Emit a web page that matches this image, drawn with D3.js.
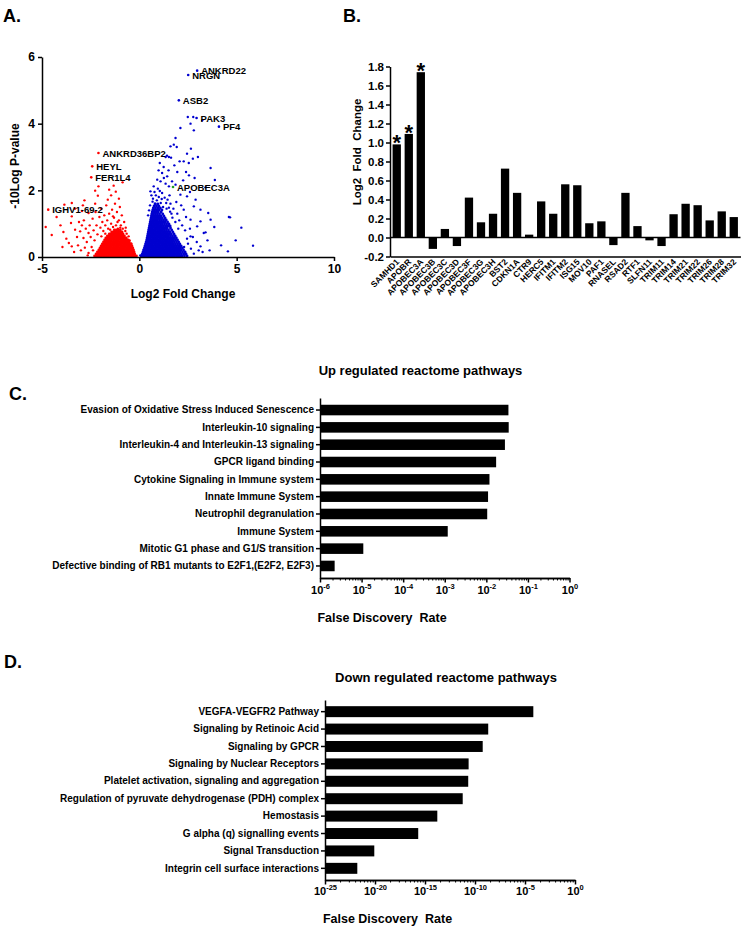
<!DOCTYPE html>
<html>
<head>
<meta charset="utf-8">
<script src="https://cdn.jsdelivr.net/npm/d3@7/dist/d3.min.js"></script>
<style>
html,body{margin:0;padding:0;background:#fff;}
svg{display:block;}
</style>
</head>
<body>
<svg id="fig" width="744" height="928"></svg>
<script>
// ================= DATA =================
// ---- Panel A: volcano plot ----
const aXTicks = [-5, 0, 5, 10];
const aYTicks = [0, 2, 4, 6];
const geneNames   = ["ANKRD22","NRGN","ASB2","PAK3","PF4","APOBEC3A","ANKRD36BP2","HEYL","FER1L4","IGHV1-69-2"];
const geneLog2FC  = [2.97, 2.51, 2.03, 2.94, 4.09, 1.73, -2.10, -2.42, -2.47, -4.68];
const geneNegLogP = [5.59, 5.46, 4.70, 4.17, 3.91, 2.10, 3.12, 2.72, 2.39, 1.42];
const geneGroup   = ["up","up","up","up","up","highlight","down","down","down","down"];

// scattered down-regulated genes [log2FC, -10logP]
const downPoints = [
[-0.86,2.24],[-1.32,2.14],[-2.27,1.99],[-2.13,1.84],[-1.55,2.02],[-1.21,1.96],[-2.10,2.12],
[-4.81,0.90],[-4.50,0.66],[-3.85,1.57],[-3.47,1.62],[-3.30,1.45],[-2.82,1.70],[-2.27,1.60],[-2.61,1.32],[-2.95,1.38],
[-3.47,1.22],[-3.51,1.02],[-3.30,0.82],[-3.04,0.77],[-2.87,0.57],[-2.61,0.72],[-3.47,0.32],[-2.61,0.12],
[-4.05,0.95],[-3.90,0.75],[-3.75,0.55],[-3.62,0.42],[-3.20,0.60],[-3.15,0.35],[-2.95,0.95],[-2.85,1.10],[-2.75,0.85],
[-2.70,0.45],[-2.55,0.95],[-2.50,0.60],[-2.45,0.30],[-2.40,1.15],[-2.35,0.80],[-2.30,0.50],[-2.25,1.35],[-2.20,0.95],
[-2.15,0.68],[-2.05,1.20],[-2.00,0.88],[-1.95,1.45],[-1.90,1.05],[-1.85,0.78],[-1.80,1.25],[-1.75,0.95],[-1.70,1.55],
[-1.65,1.10],[-1.60,0.85],[-1.55,1.30],[-1.45,1.00],[-1.40,1.42],[-1.35,0.90],[-1.30,1.18],[-1.25,1.60],[-1.20,0.95],
[-1.15,1.35],[-1.10,0.85],[-1.05,1.10],[-1.00,1.50],[-0.95,0.95],[-0.90,1.25],[-0.85,0.85],[-0.78,1.05],[-0.70,0.88],
[-0.65,0.70],[-0.55,0.62],[-0.50,0.50],[-0.42,0.40],[-3.00,0.20],[-2.80,0.28],[-3.35,0.15],[-2.90,1.55],[-3.10,1.05],
[-1.62,1.72],[-1.05,1.75],[-1.45,1.85],[-3.95,0.30],[-4.25,1.20],[-2.65,0.05],[-1.95,0.62],[-1.75,0.70],[-2.38,0.20],
[-1.35,1.22],[-1.12,1.05],[-0.98,0.88],[-1.50,0.82],[-0.72,0.78]
];
// scattered up-regulated genes
const upPoints = [
[2.49,4.20],[2.77,4.20],[3.23,4.10],[2.63,4.00],[2.11,3.87],[2.80,3.80],
[1.86,3.57],[1.77,3.37],[1.92,3.30],[1.60,3.32],[1.42,3.04],[1.35,3.00],[1.52,3.00],[1.63,2.98],[2.45,3.10],
[2.28,2.87],[2.54,2.82],[2.07,2.87],[1.05,2.82],[0.99,2.60],[1.17,2.52],[1.26,2.37],[1.09,2.27],[0.92,2.32],
[1.43,2.42],[1.68,2.27],[0.74,2.12],[1.52,2.12],[1.86,2.17],[0.57,1.97],[1.17,1.92],[2.11,1.87],[2.45,1.82],
[2.89,1.72],[2.80,1.52],[3.14,1.42],[2.28,1.42],[2.63,1.12],[2.97,0.92],[3.31,0.72],[2.63,0.62],[3.14,0.32],[3.66,1.12],
[3.01,3.00],[3.66,2.67],[2.84,2.37],[3.88,2.31],[3.40,2.09],[3.54,1.32],[3.14,1.07],[4.60,1.20],[4.66,1.19],
[5.24,0.88],[3.40,0.74],[4.95,0.50],[5.84,0.34],[4.55,0.17],[3.61,0.20],
[0.70,1.75],[0.85,1.85],[1.00,1.80],[1.30,1.78],[1.45,1.72],[1.60,1.60],[1.75,1.45],[1.95,1.30],[2.05,1.10],
[2.20,0.95],[2.35,0.80],[2.50,0.40],[2.65,0.25],[2.80,0.10],[2.95,0.45],[3.05,0.20],[2.40,1.20],[2.15,1.55],
[1.90,1.65],[0.95,2.05],[1.35,2.20],[0.80,1.60],[1.55,1.85],[2.60,1.95],[2.25,2.30],[1.95,2.55],[2.40,2.55],
[2.55,2.45],[1.80,2.75],[1.25,2.70],[2.75,2.95],[2.65,3.25],[1.50,2.60],[2.30,0.30],[2.45,0.55],[2.60,0.85],
[2.75,0.60],[3.25,0.15],[3.50,0.50],[3.85,0.90],[4.20,0.35],[0.45,1.25],[0.55,1.55],[0.62,1.85],[0.50,1.40],
[0.05,0.05],[1.10,1.62],[1.22,1.50],[1.40,1.45],[1.65,1.30],[1.85,1.05],[2.00,0.85],
[0.68,1.66],[0.90,1.70],[1.15,1.74],[1.38,1.62],[1.52,1.48],[1.70,1.18],[1.58,1.36],[0.78,1.95],[1.05,1.98]
];
// dense cores: [-10logP, log2FC, log2FC, ...]
const downCoreRows = [
[0.03,-2.30,-2.21,-2.12,-2.03,-1.94,-1.85,-1.76,-1.67,-1.58,-1.49,-1.40,-1.31,-1.22,-1.13,-1.04,-0.95,-0.86,-0.77,-0.68,-0.59,-0.50,-0.41,-0.32,-0.23,-0.15],
[0.09,-2.22,-2.13,-2.04,-1.95,-1.86,-1.77,-1.68,-1.59,-1.50,-1.41,-1.32,-1.23,-1.14,-1.05,-0.96,-0.87,-0.78,-0.69,-0.60,-0.51,-0.42,-0.33,-0.24],
[0.15,-2.15,-2.06,-1.97,-1.88,-1.79,-1.70,-1.61,-1.52,-1.43,-1.34,-1.25,-1.16,-1.07,-0.98,-0.89,-0.80,-0.71,-0.62,-0.53,-0.44,-0.35,-0.27],
[0.21,-2.08,-1.99,-1.90,-1.81,-1.72,-1.63,-1.54,-1.45,-1.36,-1.27,-1.18,-1.09,-1.00,-0.91,-0.82,-0.73,-0.64,-0.55,-0.46,-0.37,-0.30],
[0.27,-2.02,-1.93,-1.84,-1.75,-1.66,-1.57,-1.48,-1.39,-1.30,-1.21,-1.12,-1.03,-0.94,-0.85,-0.76,-0.67,-0.58,-0.49,-0.40,-0.34],
[0.33,-1.96,-1.87,-1.78,-1.69,-1.60,-1.51,-1.42,-1.33,-1.24,-1.15,-1.06,-0.97,-0.88,-0.79,-0.70,-0.61,-0.52,-0.44,-0.38],
[0.39,-1.90,-1.81,-1.72,-1.63,-1.54,-1.45,-1.36,-1.27,-1.18,-1.09,-1.00,-0.91,-0.82,-0.73,-0.64,-0.56,-0.48,-0.42],
[0.45,-1.84,-1.75,-1.66,-1.57,-1.48,-1.39,-1.30,-1.21,-1.12,-1.03,-0.94,-0.85,-0.76,-0.68,-0.60,-0.52],
[0.51,-1.78,-1.69,-1.60,-1.51,-1.42,-1.33,-1.24,-1.15,-1.06,-0.97,-0.88,-0.80,-0.72,-0.64,-0.57],
[0.57,-1.72,-1.63,-1.54,-1.45,-1.36,-1.27,-1.18,-1.09,-1.00,-0.91,-0.83,-0.75,-0.67],
[0.63,-1.64,-1.55,-1.46,-1.37,-1.28,-1.19,-1.10,-1.01,-0.93,-0.85,-0.77],
[0.69,-1.54,-1.45,-1.36,-1.27,-1.18,-1.09,-1.00,-0.92,-0.84],
[0.75,-1.42,-1.33,-1.24,-1.15,-1.06,-0.97,-0.89],
[0.81,-1.28,-1.18,-1.08,-0.98]
];
const upCoreRows = [
[0.03,0.10,0.19,0.28,0.37,0.46,0.55,0.64,0.73,0.82,0.91,1.00,1.09,1.18,1.27,1.36,1.45,1.54,1.63,1.72,1.81,1.90,1.99,2.09,2.20,2.32,2.45],
[0.09,0.15,0.24,0.33,0.42,0.51,0.60,0.69,0.78,0.87,0.96,1.05,1.14,1.23,1.32,1.41,1.50,1.59,1.68,1.77,1.86,1.95,2.05,2.16,2.28,2.40],
[0.15,0.19,0.28,0.37,0.46,0.55,0.64,0.73,0.82,0.91,1.00,1.09,1.18,1.27,1.36,1.45,1.54,1.63,1.72,1.81,1.90,1.99,2.10,2.22,2.35],
[0.21,0.22,0.31,0.40,0.49,0.58,0.67,0.76,0.85,0.94,1.03,1.12,1.21,1.30,1.39,1.48,1.57,1.66,1.75,1.84,1.93,2.03,2.14,2.27],
[0.27,0.26,0.35,0.44,0.53,0.62,0.71,0.80,0.89,0.98,1.07,1.16,1.25,1.34,1.43,1.52,1.61,1.70,1.79,1.88,1.98,2.09,2.21],
[0.33,0.29,0.38,0.47,0.56,0.65,0.74,0.83,0.92,1.01,1.10,1.19,1.28,1.37,1.46,1.55,1.64,1.73,1.82,1.92,2.03,2.15],
[0.39,0.32,0.41,0.50,0.59,0.68,0.77,0.86,0.95,1.04,1.13,1.22,1.31,1.40,1.49,1.58,1.67,1.76,1.86,1.97,2.08],
[0.45,0.35,0.44,0.53,0.62,0.71,0.80,0.89,0.98,1.07,1.16,1.25,1.34,1.43,1.52,1.61,1.70,1.80,1.91,2.02],
[0.51,0.38,0.47,0.56,0.65,0.74,0.83,0.92,1.01,1.10,1.19,1.28,1.37,1.46,1.55,1.64,1.74,1.85,1.96],
[0.57,0.40,0.49,0.58,0.67,0.76,0.85,0.94,1.03,1.12,1.21,1.30,1.39,1.48,1.57,1.67,1.78,1.90],
[0.63,0.42,0.51,0.60,0.69,0.78,0.87,0.96,1.05,1.14,1.23,1.32,1.41,1.50,1.60,1.71,1.84],
[0.69,0.44,0.53,0.62,0.71,0.80,0.89,0.98,1.07,1.16,1.25,1.34,1.43,1.53,1.64,1.78],
[0.75,0.46,0.55,0.64,0.73,0.82,0.91,1.00,1.09,1.18,1.27,1.36,1.46,1.57,1.72],
[0.81,0.48,0.57,0.66,0.75,0.84,0.93,1.02,1.11,1.20,1.29,1.39,1.50,1.66],
[0.87,0.50,0.59,0.68,0.77,0.86,0.95,1.04,1.13,1.22,1.32,1.43,1.60],
[0.93,0.52,0.61,0.70,0.79,0.88,0.97,1.06,1.15,1.25,1.36,1.48,1.58],
[0.99,0.54,0.63,0.72,0.81,0.90,0.99,1.08,1.18,1.29,1.40,1.52],
[1.05,0.56,0.65,0.74,0.83,0.92,1.01,1.11,1.21,1.32,1.45],
[1.11,0.58,0.67,0.76,0.85,0.94,1.04,1.14,1.25,1.38],
[1.17,0.60,0.69,0.78,0.87,0.97,1.07,1.18,1.32],
[1.23,0.62,0.71,0.80,0.90,1.00,1.11,1.26],
[1.29,0.64,0.73,0.83,0.93,1.04,1.20],
[1.35,0.66,0.76,0.86,0.97,1.12],
[1.41,0.69,0.79,0.90,1.02,1.16],
[1.47,0.72,0.83,0.95,1.08],
[1.53,0.76,0.88,1.00],
[1.59,0.82,0.95]
];

// ---- Panel B: restriction factor fold change ----
const bGenes = ["SAMHD1","APOBR","APOBEC3A","APOBEC3B","APOBEC3C","APOBEC3D","APOBEC3F","APOBEC3G","APOBEC3H","BST2",
  "CDKN1A","CTR9","HERC5","IFITM1","IFITM2","ISG15","MOV10","PAF1","RNASEL","RSAD2","RTF1","SLFN11","TRIM11","TRIM14",
  "TRIM21","TRIM22","TRIM26","TRIM28","TRIM32"];
const bLog2FC = [0.98,1.09,1.74,-0.12,0.09,-0.09,0.42,0.16,0.25,0.725,
  0.47,0.03,0.38,0.25,0.56,0.55,0.15,0.17,-0.08,0.47,0.12,-0.03,-0.09,0.245,
  0.355,0.34,0.18,0.275,0.215];
const bSignificant = ["SAMHD1","APOBR","APOBEC3A"];
const bYTicks = [-0.2,0.0,0.2,0.4,0.6,0.8,1.0,1.2,1.4,1.6,1.8];

// ---- Panel C: up regulated reactome pathways ----
const upPathways = ["Evasion of Oxidative Stress Induced Senescence","Interleukin-10 signaling",
  "Interleukin-4 and Interleukin-13 signaling","GPCR ligand binding","Cytokine Signaling in Immune system",
  "Innate Immune System","Neutrophil degranulation","Immune System","Mitotic G1 phase and G1/S transition",
  "Defective binding of RB1 mutants to E2F1,(E2F2, E2F3)"];
const upFDR = [0.034,0.0345,0.028,0.0172,0.0119,0.011,0.0105,0.00118,1.1e-5,2.25e-6];
const upExponents = [-6,-5,-4,-3,-2,-1,0];

// ---- Panel D: down regulated reactome pathways ----
const downPathways = ["VEGFA-VEGFR2 Pathway","Signaling by Retinoic Acid","Signaling by GPCR",
  "Signaling by Nuclear Receptors","Platelet activation, signaling and aggregation",
  "Regulation of pyruvate dehydrogenase (PDH) complex","Hemostasis","G alpha (q) signalling events",
  "Signal Transduction","Integrin cell surface interactions"];
const downFDR = [6.8e-5,2.1e-9,5.9e-10,2.3e-11,2.1e-11,5.9e-12,1.7e-14,2.1e-16,8.5e-21,1.7e-22];
const downExponents = [-25,-20,-15,-10,-5,0];

// ================= DRAWING =================
const FONT = "'Liberation Sans', Arial, Helvetica, sans-serif";
const svg = d3.select("#fig");
svg.append("rect").attr("width",744).attr("height",928).attr("fill","#fff");

function label(g, x, y, s, size, anchor, rot) {
  const t = g.append("text").attr("x", x).attr("y", y).text(s)
    .attr("font-family", FONT).attr("font-weight", "bold").attr("font-size", size)
    .attr("text-anchor", anchor || "start").attr("fill", "#000")
    .style("white-space", "pre");
  if (rot) t.attr("transform", `rotate(${rot},${x},${y})`);
  return t;
}
function styleAxis(g, fs) {
  g.attr("font-family", FONT).attr("font-size", fs).attr("font-weight", "bold");
  g.selectAll(".domain").attr("stroke", "#000").attr("stroke-width", 1.5);
  g.selectAll(".tick line").attr("stroke", "#000").attr("stroke-width", 1.5);
  g.selectAll(".tick text").attr("fill", "#000");
}

// panel letters
label(svg, 3, 22, "A.", 18);
label(svg, 343, 22, "B.", 18);
label(svg, 9, 400, "C.", 18);
label(svg, 4, 668, "D.", 18);

// ---------- Panel A ----------
{
  const xA = d3.scaleLinear().domain([-5, 10]).range([42, 334]);
  const yA = d3.scaleLinear().domain([0, 6]).range([257, 57]);
  const g = svg.append("g");
  const flatten = rows => rows.flatMap(r => r.slice(1).map(x => [x, r[0]]));
  const RED = "#ff0000", BLUE = "#0000d0";
  [[flatten(downCoreRows), RED, 1.45], [flatten(upCoreRows), BLUE, 1.45],
   [downPoints, RED, 1.2], [upPoints, BLUE, 1.2]].forEach(([pts, col, r]) => {
    g.append("g").selectAll("circle").data(pts).join("circle")
      .attr("cx", d => xA(d[0])).attr("cy", d => yA(d[1])).attr("r", r).attr("fill", col);
  });
  const colorOf = {up: BLUE, down: RED, highlight: "#1fa01f"};
  const idx = d3.range(geneNames.length);
  g.append("g").selectAll("circle").data(idx).join("circle")
    .attr("cx", i => xA(geneLog2FC[i])).attr("cy", i => yA(geneNegLogP[i])).attr("r", 1.3)
    .attr("fill", i => colorOf[geneGroup[i]]);
  g.append("g").selectAll("text").data(idx).join("text")
    .attr("x", i => xA(geneLog2FC[i]) + 4).attr("y", i => yA(geneNegLogP[i]) + 3.5)
    .text(i => geneNames[i]).attr("font-family", FONT).attr("font-weight", "bold")
    .attr("font-size", 9.5).attr("fill", "#000");

  const ax = g.append("g").attr("transform", `translate(0,${yA(0)})`)
    .call(d3.axisBottom(xA).tickValues(aXTicks).tickFormat(d => String(d)).tickSize(4).tickSizeOuter(0).tickPadding(3));
  styleAxis(ax, 12);
  const ay = g.append("g").attr("transform", `translate(${xA(-5)},0)`)
    .call(d3.axisLeft(yA).tickValues(aYTicks).tickFormat(d => String(d)).tickSize(4).tickSizeOuter(0).tickPadding(3));
  styleAxis(ay, 12);
  label(g, 183, 298, "Log2 Fold Change", 12, "middle");
  label(g, 19, 166, "-10Log P-value", 12, "middle", -90);
}

// ---------- Panel B ----------
{
  const xB = d3.scaleBand().domain(bGenes).range([390, 740.5]).paddingInner(0.31).paddingOuter(0.215);
  const yB = d3.scaleLinear().domain([-0.2, 1.8]).range([256.5, 66.5]);
  const g = svg.append("g");
  const idx = d3.range(bGenes.length);
  g.append("g").selectAll("rect").data(idx).join("rect")
    .attr("x", i => xB(bGenes[i])).attr("width", xB.bandwidth())
    .attr("y", i => yB(Math.max(0, bLog2FC[i])))
    .attr("height", i => Math.abs(yB(bLog2FC[i]) - yB(0)))
    .attr("fill", "#000");
  g.append("line").attr("x1", xB.range()[0]).attr("x2", xB.range()[1])
    .attr("y1", yB(0)).attr("y2", yB(0)).attr("stroke", "#000").attr("stroke-width", 1.5);
  const ax = g.append("g").attr("transform", `translate(0,${yB(-0.2)})`)
    .call(d3.axisBottom(xB).tickSize(0).tickFormat(() => ""));
  styleAxis(ax, 8.5);
  const ay = g.append("g").attr("transform", `translate(${xB.range()[0]},0)`)
    .call(d3.axisLeft(yB).tickValues(bYTicks).tickFormat(d => d.toFixed(1)).tickSize(4).tickSizeOuter(0).tickPadding(2));
  styleAxis(ay, 11.5);
  idx.forEach(i => {
    const cx = xB(bGenes[i]) + xB.bandwidth() / 2 + 3;
    label(g, cx, yB(-0.2) + 6, bGenes[i], 8.5, "end", -45);
  });
  bSignificant.forEach(name => {
    const i = bGenes.indexOf(name);
    label(g, xB(name) + xB.bandwidth() / 2, yB(bLog2FC[i]) + 6, "*", 22, "middle");
  });
  label(g, 361, 152, "Log2  Fold  Change", 11.5, "middle", -90);
}

// ---------- log bar panels ----------
function logPanel(opts) {
  const g = svg.append("g");
  const x = d3.scaleLog().domain(opts.xDomain).range(opts.xRange);
  const y = d3.scaleBand().domain(opts.cats).range(opts.yRange).paddingInner(opts.pi).paddingOuter(opts.po);
  const idx = d3.range(opts.cats.length);
  g.append("g").selectAll("rect").data(idx).join("rect")
    .attr("x", opts.xRange[0]).attr("y", i => y(opts.cats[i]))
    .attr("width", i => x(opts.vals[i]) - opts.xRange[0]).attr("height", y.bandwidth())
    .attr("fill", "#000");
  const base = opts.yRange[1];
  const axMinor = g.append("g").attr("transform", `translate(0,${base})`)
    .call(d3.axisBottom(x).tickValues(opts.minor).tickSize(2.5).tickSizeOuter(0).tickFormat(() => ""));
  styleAxis(axMinor, 9);
  axMinor.selectAll(".tick line").attr("stroke-width", 1);
  const majors = opts.exps.map(e => Math.pow(10, e));
  const axMajor = g.append("g").attr("transform", `translate(0,${base})`)
    .call(d3.axisBottom(x).tickValues(majors).tickSize(4.5).tickSizeOuter(0).tickFormat(() => ""));
  styleAxis(axMajor, 9);
  axMajor.selectAll(".tick").each(function(d) {
    const e = Math.round(Math.log10(d));
    const t = d3.select(this).append("text").attr("y", opts.labY).attr("fill", "#000")
      .attr("text-anchor", "middle").attr("font-size", 11);
    t.append("tspan").text("10");
    t.append("tspan").attr("font-size", 7.5).attr("dy", -5).text(String(e));
  });
  const ay = g.append("g").attr("transform", `translate(${opts.xRange[0]},0)`)
    .call(d3.axisLeft(y).tickSize(4).tickSizeOuter(0).tickPadding(2));
  styleAxis(ay, 10);
  label(g, opts.titleX, opts.titleY, opts.title, 13, "middle");
  label(g, opts.xtX, opts.xtY, "False Discovery  Rate", 12.5, "middle");
}

// minor tick positions (2..9 subdivisions within each labelled interval)
const upMinor = [];
upExponents.slice(0, -1).forEach(e => [2,3,4,5,6,7,8,9].forEach(k => upMinor.push(k * Math.pow(10, e))));
const downMinor = [];
downExponents.slice(0, -1).forEach(e => [2,3,4,5,6,7,8,9].forEach(k => downMinor.push(Math.pow(10, e + 5 * Math.log10(k)))));

logPanel({
  cats: upPathways, vals: upFDR, exps: upExponents, minor: upMinor,
  xDomain: [1e-6, 1], xRange: [320, 569.5], yRange: [398, 578], pi: 0.39, po: 0.39,
  labY: 16, title: "Up regulated reactome pathways", titleX: 420.5, titleY: 375,
  xtX: 382, xtY: 621.5
});
logPanel({
  cats: downPathways, vals: downFDR, exps: downExponents, minor: downMinor,
  xDomain: [1e-25, 1], xRange: [325, 575], yRange: [700, 880], pi: 0.37, po: 0.355,
  labY: 15, title: "Down regulated reactome pathways", titleX: 446, titleY: 681.5,
  xtX: 387.5, xtY: 923
});
</script>
</body>
</html>
